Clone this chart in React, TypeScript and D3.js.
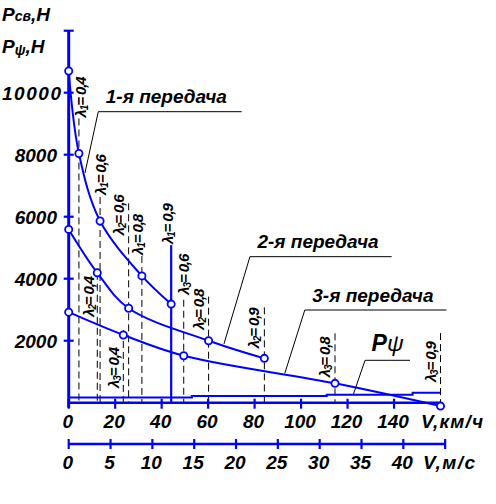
import React from 'react';
import * as d3 from 'd3';

// ---- data ----
const speedTicksKmh = [0, 20, 40, 60, 80, 100, 120, 140];
const speedTicksMs = [0, 5, 10, 15, 20, 25, 30, 35, 40, 45];
const forceTicks = [2000, 4000, 6000, 8000, 10000];
const forceTickMarks = [2000, 4000, 6000, 8000, 10000, 12000];

const gear1Speed = [0, 4.4, 13.5, 31.5, 44.1];
const gear1Force = [10700, 8040, 5860, 4090, 3180];
const gear2Speed = [0, 12.3, 25.8, 60.2, 84.2];
const gear2Force = [5590, 4190, 3045, 2000, 1430];
const gear3Speed = [0, 23.5, 49.5, 114.6, 160];
const gear3Force = [2920, 2185, 1515, 625, -110];
const resistSpeed = [0, 53, 111, 148, 160];
const resistForce = [170, 215, 258, 323, 323];

const lambdaValues = ['', '0,4', '0,6', '0,8', '0,9'];
const gearNames = ['1-я передача', '2-я передача', '3-я передача'];

// ---- annotation layout (pixel offsets relative to points) ----
// [labelDx, labelBottomDy, lineTopDy, solid]
const lambdaLayout: [number, number, number, boolean][][] = [
  [[0, 0, 0, false], [1.5, -36, -35, false], [1, -26, -24, false], [-4, -21, -20, false], [-3, -60, -59, true]],
  [[0, 0, 0, false], [-9, 44, 0, false], [-10, -73, -105, false], [-10, -11, -44, false], [-11, -10, -51, false]],
  [[0, 0, 0, false], [-10, 53, -5, false], [0, -61, -56, false], [-10, -6, -50, false], [-10, -24, -73, false]],
];
// leader anchors in data units and elbow offsets in px
const leaderAnchorSpeed = [7, 66.8, 93, 122.5];
const leaderAnchorForce = [7410, 1894, 948, 271];
const leaderLayout = [
  { ex: 13.3, ey: -61.3, len: 143.4 },
  { ex: 26, ey: -87.3, len: 141.7 },
  { ex: 20, ey: -63.3, len: 141.7 },
  { ex: 11.7, ey: -34, len: 45 },
];

const BLUE = '#0000ff';
const FONT = '"Liberation Sans", Arial, sans-serif';

export default function App() {
  const x = d3.scaleLinear().domain([0, 160]).range([68.7, 440.5]);
  const xs = d3.scaleLinear().domain([0, 45]).range([68.7, 68.7 + 45 * 3.6 * (371.8 / 160)]);
  const y = d3.scaleLinear().domain([0, 12000]).range([402.7, 30.7]);

  const line = d3
    .line<[number, number]>()
    .x((d) => x(d[0]))
    .y((d) => y(d[1]))
    .curve(d3.curveCatmullRom.alpha(0.5));
  const stepLine = d3
    .line<[number, number]>()
    .x((d) => x(d[0]))
    .y((d) => y(d[1]))
    .curve(d3.curveStepAfter);

  const gears = [
    { v: gear1Speed, p: gear1Force },
    { v: gear2Speed, p: gear2Force },
    { v: gear3Speed, p: gear3Force },
  ];

  const resist: [number, number][] = resistSpeed.map((v, i) => [v, resistForce[i]]);
  const x0 = x(0);
  const yAxis = y(0);
  const msY = 444;

  return (
    <svg
      width={496}
      height={504}
      style={{ position: 'absolute', left: 0, top: 0, background: '#fff' }}
      fontFamily={FONT}
    >
      <rect width={496} height={504} fill="#fff" />

      {/* lambda dashed lines and labels */}
      {gears.map((g, gi) =>
        g.v.map((v, i) => {
          if (i === 0) return null;
          const [dx, ldy, tdy, solid] = lambdaLayout[gi][i];
          const px = x(v);
          const py = y(g.p[i]);
          const cx = px + dx;
          const by = py + ldy;
          return (
            <g key={`l${gi}-${i}`}>
              <line
                x1={px}
                x2={px}
                y1={py + tdy}
                y2={yAxis}
                stroke={solid ? BLUE : '#000'}
                strokeWidth={solid ? 2.2 : 1}
                strokeDasharray={solid ? undefined : '7 4'}
              />
              <text
                transform={`translate(${cx + 5.3},${by}) rotate(-90)`}
                fontSize={15}
                fontWeight="bold"
                fontStyle="italic"
                fill="#000"
                textLength={41}
                lengthAdjust="spacing"
              >
                λ<tspan fontSize={10} dy={2}>{gi + 1}</tspan>
                <tspan dy={-2}>= {lambdaValues[i]}</tspan>
              </text>
            </g>
          );
        })
      )}

      {/* resistance */}
      <path d={stepLine(resist) || ''} fill="none" stroke={BLUE} strokeWidth={2} />

      {/* gear curves */}
      {gears.map((g, gi) => (
        <path
          key={`c${gi}`}
          d={line(g.v.map((v, i) => [v, g.p[i]] as [number, number])) || ''}
          fill="none"
          stroke={BLUE}
          strokeWidth={2}
        />
      ))}

      {/* axes */}
      <line x1={x0} x2={x0} y1={y(12000)} y2={yAxis + 5} stroke={BLUE} strokeWidth={3} />
      {forceTickMarks.map((t) => (
        <line key={`yt${t}`} x1={x0 - 5} x2={x0 + 5} y1={y(t)} y2={y(t)} stroke={BLUE} strokeWidth={2.2} />
      ))}
      <line x1={x0} x2={x(160)} y1={yAxis} y2={yAxis} stroke={BLUE} strokeWidth={2.4} />
      {speedTicksKmh.map((t) => (
        <line key={`xt${t}`} x1={x(t)} x2={x(t)} y1={yAxis - 4} y2={yAxis + 6} stroke={BLUE} strokeWidth={2.2} />
      ))}
      <line x1={xs(0)} x2={xs(45)} y1={msY} y2={msY} stroke={BLUE} strokeWidth={2.6} />
      {speedTicksMs.map((t) => (
        <line key={`mt${t}`} x1={xs(t)} x2={xs(t)} y1={msY - 5} y2={msY + 5} stroke={BLUE} strokeWidth={2.2} />
      ))}

      {/* points */}
      {gears.map((g, gi) =>
        g.v.map((v, i) => (
          <circle
            key={`p${gi}-${i}`}
            cx={x(v)}
            cy={y(g.p[i])}
            r={3.6}
            fill="#fff"
            stroke={BLUE}
            strokeWidth={1.8}
          />
        ))
      )}

      {/* tick labels */}
      <g fontSize={19} fontWeight="bold" fontStyle="italic" fill="#000">
        {forceTicks.map((t) =>
          t >= 10000 ? (
            <text key={`yl${t}`} x={2} y={y(t) + 7} textLength={59} lengthAdjust="spacing">
              {t}
            </text>
          ) : (
            <text key={`yl${t}`} x={57} y={y(t) + 7} textAnchor="end">
              {t}
            </text>
          )
        )}
        {speedTicksKmh.map((t) => (
          <text key={`xl${t}`} x={x(t) - 1} y={428} textAnchor="middle">
            {t}
          </text>
        ))}
        {speedTicksMs.slice(0, 9).map((t) => (
          <text key={`ml${t}`} x={xs(t) - 1} y={469} textAnchor="middle">
            {t}
          </text>
        ))}
        <text x={421} y={428} textLength={62} lengthAdjust="spacing">V,км/ч</text>
        <text x={423} y={469} textLength={52} lengthAdjust="spacing">V,м/с</text>
        <text x={2} y={21}>
          P<tspan fontSize={14}>св</tspan>,Н
        </text>
        <text x={2} y={53}>
          P<tspan fontSize={14} dy={2}>ψ</tspan>
          <tspan dy={-2}>,Н</tspan>
        </text>
      </g>

      {/* gear labels with leaders */}
      {leaderLayout.map((L, i) => {
        const ax = x(leaderAnchorSpeed[i]);
        const ay = y(leaderAnchorForce[i]);
        const exx = ax + L.ex;
        const eyy = ay + L.ey;
        return (
          <g key={`ld${i}`}>
            <polyline
              points={`${ax},${ay} ${exx},${eyy} ${exx + L.len},${eyy}`}
              fill="none"
              stroke="#000"
              strokeWidth={1}
            />
            {i < 3 ? (
              <text x={exx + 7.5} y={eyy - 8.5} fontSize={19} fontStyle="italic" fontWeight="bold" fill="#000">
                {gearNames[i]}
              </text>
            ) : (
              <text x={exx + 6.5} y={eyy - 9} fontSize={23} fontStyle="italic" fill="#000">
                <tspan fontWeight="bold">P</tspan>ψ
              </text>
            )}
          </g>
        );
      })}
    </svg>
  );
}
